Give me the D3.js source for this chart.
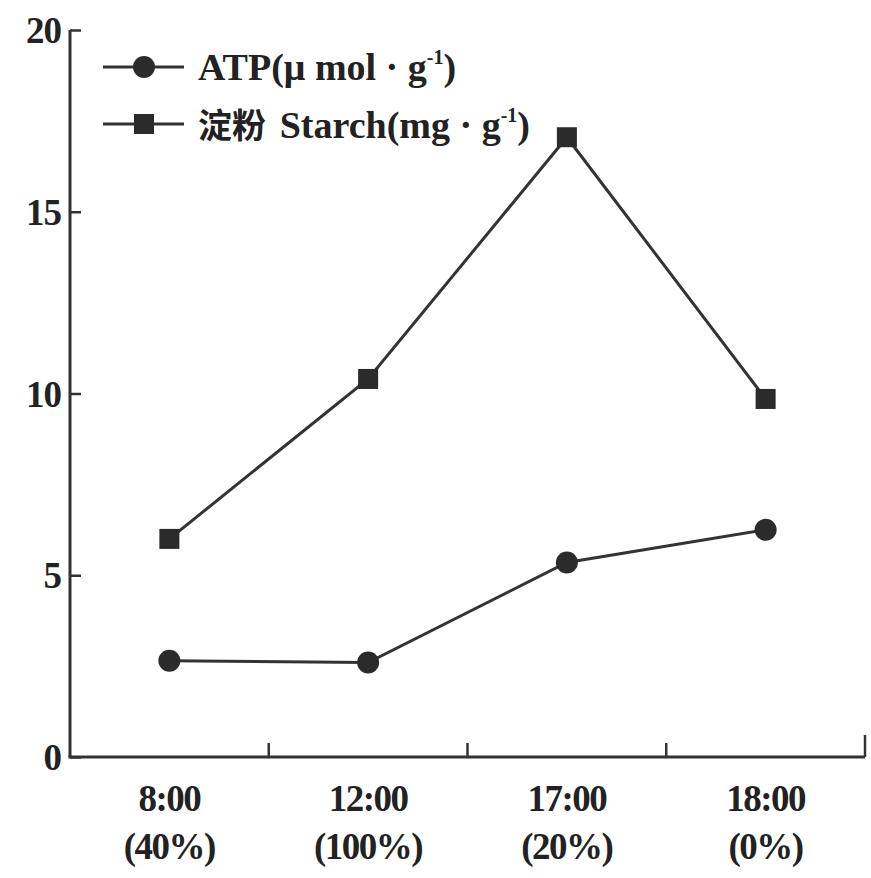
<!DOCTYPE html>
<html>
<head>
<meta charset="utf-8">
<script src="https://cdn.jsdelivr.net/npm/d3@7"></script>
<style>
  html, body { margin: 0; padding: 0; background: #fff; }
  svg { display: block; }
  text { font-family: "Liberation Serif", "Times New Roman", serif; font-weight: bold; fill: #222; }
</style>
</head>
<body>
<svg id="chart" width="871" height="878"></svg>
<script>
// Sampling times (with relative light level) along the x axis
const timeLabels = ["8:00", "12:00", "17:00", "18:00"];
const lightLabels = ["(40%)", "(100%)", "(20%)", "(0%)"];
// ATP content, μmol·g⁻¹
const atpValues = [2.65, 2.6, 5.35, 6.25];
// Starch content, mg·g⁻¹
const starchValues = [6.0, 10.4, 17.05, 9.85];
// Y axis ticks
const yTicks = [0, 5, 10, 15, 20];

const svg = d3.select("#chart");
const ink = "#333";

const x = d3.scaleBand().domain(timeLabels).range([70, 865]);
const y = d3.scaleLinear().domain([0, 20]).range([757, 30]);

// Axes: ticks point inward
const yAxis = svg.append("g")
  .attr("transform", "translate(70,0)")
  .call(d3.axisLeft(y).tickValues(yTicks).tickSize(-11).tickPadding(9));
yAxis.select(".domain").remove();
yAxis.selectAll(".tick line").attr("stroke", ink).attr("stroke-width", 2.5);
yAxis.selectAll(".tick text").attr("font-size", 37).attr("fill", "#222")
  .attr("font-family", "Liberation Serif").attr("dy", "0.34em").style("letter-spacing", "-1px");

svg.append("line").attr("x1", 70).attr("x2", 70).attr("y1", y(20)).attr("y2", y(0))
  .attr("stroke", ink).attr("stroke-width", 3);
svg.append("line").attr("x1", 68.5).attr("x2", 865).attr("y1", y(0)).attr("y2", y(0))
  .attr("stroke", ink).attr("stroke-width", 3);

// Band boundary ticks on the x axis
const bounds = timeLabels.slice(1).map(d => x(d)).concat([x.range()[1]]);
svg.append("g").selectAll("line").data(bounds).join("line")
  .attr("x1", d => d).attr("x2", d => d)
  .attr("y1", y(0)).attr("y2", (d, i) => y(0) - (i === bounds.length - 1 ? 22 : 14))
  .attr("stroke", ink).attr("stroke-width", 2.5);

// X category labels (two lines)
const xl = svg.append("g").selectAll("text").data(timeLabels).join("text")
  .attr("x", d => x(d) + x.bandwidth() / 2)
  .attr("text-anchor", "middle")
  .attr("font-size", 37)
  .style("letter-spacing", "-1.5px");
xl.append("tspan").attr("x", d => x(d) + x.bandwidth() / 2).attr("y", 811).text(d => d);
xl.append("tspan").attr("x", d => x(d) + x.bandwidth() / 2).attr("y", 859).text((d, i) => lightLabels[i]);

const cx = d => x(d) + x.bandwidth() / 2;
const line = d3.line().x(d => cx(d.t)).y(d => y(d.v));

const atp = timeLabels.map((t, i) => ({ t, v: atpValues[i] }));
const starch = timeLabels.map((t, i) => ({ t, v: starchValues[i] }));

svg.append("path").datum(atp).attr("d", line)
  .attr("fill", "none").attr("stroke", ink).attr("stroke-width", 3);
svg.append("path").datum(starch).attr("d", line)
  .attr("fill", "none").attr("stroke", ink).attr("stroke-width", 3);

svg.append("g").selectAll("circle").data(atp).join("circle")
  .attr("cx", d => cx(d.t)).attr("cy", d => y(d.v)).attr("r", 11)
  .attr("fill", "#2b2b2b");
const sq = 20;
svg.append("g").selectAll("rect").data(starch).join("rect")
  .attr("x", d => cx(d.t) - sq / 2).attr("y", d => y(d.v) - sq / 2)
  .attr("width", sq).attr("height", sq)
  .attr("fill", "#2b2b2b");

// Legend
const lg = svg.append("g");
[67, 124].forEach(ly => {
  lg.append("line").attr("x1", 103).attr("x2", 184).attr("y1", ly).attr("y2", ly)
    .attr("stroke", ink).attr("stroke-width", 3);
});
lg.append("circle").attr("cx", 144).attr("cy", 67).attr("r", 11).attr("fill", "#2b2b2b");
lg.append("rect").attr("x", 144 - sq / 2).attr("y", 124 - sq / 2).attr("width", sq).attr("height", sq).attr("fill", "#2b2b2b");

const t1 = lg.append("text").attr("x", 198).attr("y", 80).attr("font-size", 38);
t1.append("tspan").text("ATP(μ mol · g");
t1.append("tspan").attr("font-size", 20).attr("dy", -16).text("-1");
t1.append("tspan").attr("dy", 16).text(")");

const t2 = lg.append("text").attr("x", 198).attr("y", 138).attr("font-size", 38);
t2.append("tspan").attr("font-family", "Noto Sans CJK SC").attr("font-size", 34).text("淀粉 ");
t2.append("tspan").attr("dx", 6).text("Starch(mg · g");
t2.append("tspan").attr("font-size", 20).attr("dy", -16).text("-1");
t2.append("tspan").attr("dy", 16).text(")");
</script>
</body>
</html>
